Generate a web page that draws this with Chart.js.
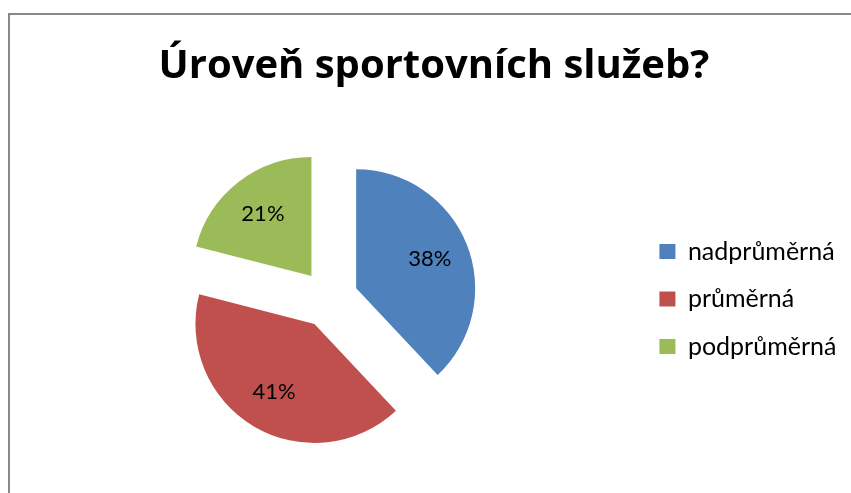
<!DOCTYPE html>
<html><head><meta charset="utf-8">
<script src="https://cdn.jsdelivr.net/npm/chart.js@4"></script>
<style>
html,body{margin:0;padding:0;background:#fff;overflow:hidden;}
#wrap{position:relative;width:851px;height:493px;}
#frame{position:absolute;left:8px;top:13px;width:1000px;height:1000px;border-left:2px solid #888;border-top:2px solid #888;}
canvas{position:absolute;left:0;top:0;}
</style></head><body>
<div id="wrap"><div id="frame"></div><canvas id="c" width="851" height="493"></canvas></div>
<script>
const chartTitle = 'Úroveň sportovních služeb?';
const categories = ['nadprůměrná', 'průměrná', 'podprůměrná'];
const values = [38, 41, 21];
const colors = ['#4F81BD', '#C0504D', '#9BBB59'];

const total = values.reduce((a, b) => a + b, 0);

// Keep exploded slices at the same radius (undo Chart.js' radius growth for offset arcs)
const evenExplode = {
  id: 'evenExplode',
  beforeDatasetDraw(chart, args) {
    args.meta.data.forEach(arc => {
      const off = (arc.options.offset || 0) / 4;
      const fix = 1 - Math.sin(Math.min(Math.PI, arc.circumference || 0));
      const rO = off * fix;
      arc.$saved = { outerRadius: arc.outerRadius, startAngle: arc.startAngle, endAngle: arc.endAngle };
      const ao = rO / (2 * Math.PI * arc.outerRadius);
      arc.outerRadius = arc.outerRadius - rO;
      arc.startAngle -= ao;
      arc.endAngle += ao;
    });
  },
  afterDatasetDraw(chart, args) {
    args.meta.data.forEach(arc => {
      if (arc.$saved) {
        Object.assign(arc, arc.$saved);
        delete arc.$saved;
      }
    });
  }
};

const pctLabels = {
  id: 'pctLabels',
  afterDatasetsDraw(chart) {
    const ctx = chart.ctx;
    const meta = chart.getDatasetMeta(0);
    ctx.save();
    ctx.font = '22px Lato';
    ctx.fillStyle = '#000';
    ctx.textAlign = 'center';
    ctx.textBaseline = 'middle';
    meta.data.forEach((arc, i) => {
      const p = arc.getProps(['x', 'y', 'startAngle', 'endAngle', 'outerRadius'], true);
      const mid = (p.startAngle + p.endAngle) / 2;
      const d = (arc.options.offset || 0) / 4 + p.outerRadius * 0.665;
      const txt = Math.round(values[i] / total * 100) + '%';
      ctx.fillText(txt, p.x + Math.cos(mid) * d, p.y + Math.sin(mid) * d);
    });
    ctx.restore();
  }
};

new Chart(document.getElementById('c'), {
  type: 'pie',
  data: {
    labels: categories,
    datasets: [{
      data: values,
      backgroundColor: colors,
      borderWidth: 0,
      offset: 116,
      radius: 119
    }]
  },
  options: {
    responsive: false,
    animation: false,
    layout: { padding: { left: 21.5, right: 4.6, top: 0, bottom: 0 } },
    plugins: {
      title: {
        display: true,
        text: chartTitle,
        color: '#000',
        font: { family: 'Open Sans', size: 40, weight: 'bold' },
        padding: { top: 42.7, bottom: 14.3 }
      },
      legend: {
        position: 'right',
        fullSize: false,
        align: 'center',
        labels: {
          boxWidth: 16,
          boxHeight: 15,
          padding: 22.5,
          color: '#000',
          font: { family: 'Lato', size: 25 }
        }
      },
      tooltip: { enabled: false }
    }
  },
  plugins: [evenExplode, pctLabels]
});
</script>
</body></html>
